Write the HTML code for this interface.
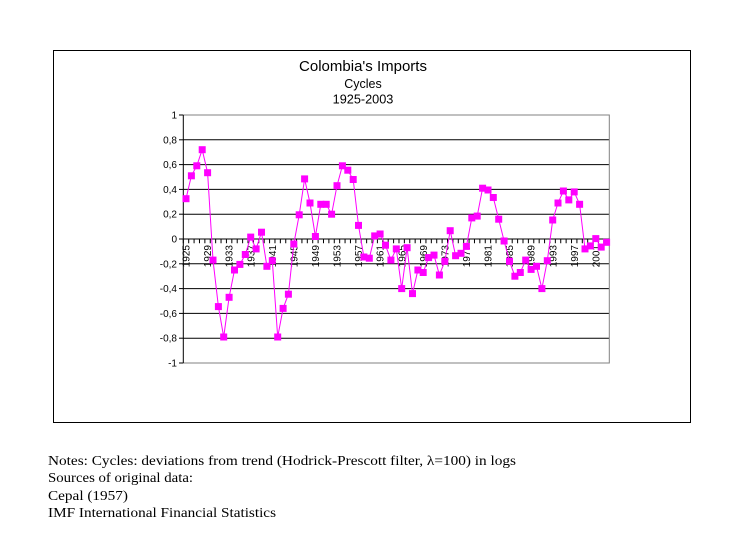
<!DOCTYPE html>
<html>
<head>
<meta charset="utf-8">
<style>
html,body{margin:0;padding:0;background:#fff;}
svg{display:block;}
</style>
</head>
<body>
<svg width="733" height="534" viewBox="0 0 733 534" xmlns="http://www.w3.org/2000/svg">
<rect x="0" y="0" width="733" height="534" fill="#fff"/>
<!-- chart box -->
<rect x="53.5" y="50.5" width="637" height="372" fill="#fff" stroke="#000" stroke-width="1"/>

<!-- titles -->
<g font-family="Liberation Sans, Arial, sans-serif" fill="#000" text-anchor="middle">
<text x="363" y="71" font-size="15">Colombia's Imports</text>
<text x="363" y="88" font-size="12.5">Cycles</text>
<text x="363" y="103.5" font-size="12.7">1925-2003</text>
</g>

<!-- gridlines -->
<g stroke="#000" stroke-width="1">
<line x1="183.3" y1="139.8" x2="609.3" y2="139.8"/>
<line x1="183.3" y1="164.6" x2="609.3" y2="164.6"/>
<line x1="183.3" y1="189.4" x2="609.3" y2="189.4"/>
<line x1="183.3" y1="214.2" x2="609.3" y2="214.2"/>
<line x1="183.3" y1="263.8" x2="609.3" y2="263.8"/>
<line x1="183.3" y1="288.6" x2="609.3" y2="288.6"/>
<line x1="183.3" y1="313.4" x2="609.3" y2="313.4"/>
<line x1="183.3" y1="338.2" x2="609.3" y2="338.2"/>
</g>
<!-- plot area border (gray) -->
<polyline points="183.3,115 609.3,115 609.3,363 183.3,363" fill="none" stroke="#808080" stroke-width="1"/>
<!-- axes -->
<line x1="183.3" y1="115" x2="183.3" y2="363" stroke="#000" stroke-width="1"/>
<line x1="183.3" y1="239" x2="609.3" y2="239" stroke="#000" stroke-width="1"/>
<!-- y ticks -->
<g stroke="#000" stroke-width="1">
<line x1="179" y1="115" x2="183.3" y2="115"/>
<line x1="179" y1="139.8" x2="183.3" y2="139.8"/>
<line x1="179" y1="164.6" x2="183.3" y2="164.6"/>
<line x1="179" y1="189.4" x2="183.3" y2="189.4"/>
<line x1="179" y1="214.2" x2="183.3" y2="214.2"/>
<line x1="179" y1="239" x2="183.3" y2="239"/>
<line x1="179" y1="263.8" x2="183.3" y2="263.8"/>
<line x1="179" y1="288.6" x2="183.3" y2="288.6"/>
<line x1="179" y1="313.4" x2="183.3" y2="313.4"/>
<line x1="179" y1="338.2" x2="183.3" y2="338.2"/>
<line x1="179" y1="363" x2="183.3" y2="363"/>
</g>
<!-- x ticks -->
<line x1="182.8" y1="241.2" x2="610" y2="241.2" stroke="#000" stroke-width="4.2" stroke-dasharray="1 4.392"/>

<!-- y labels -->
<g font-family="Liberation Sans, Arial, sans-serif" font-size="10" fill="#000" text-anchor="end">
<text x="177" y="118.5">1</text>
<text x="177" y="143.3">0,8</text>
<text x="177" y="168.1">0,6</text>
<text x="177" y="192.9">0,4</text>
<text x="177" y="217.7">0,2</text>
<text x="177" y="242.5">0</text>
<text x="177" y="267.3">-0,2</text>
<text x="177" y="292.1">-0,4</text>
<text x="177" y="316.9">-0,6</text>
<text x="177" y="341.7">-0,8</text>
<text x="177" y="366.5">-1</text>
</g>

<!-- x labels -->
<g font-family="Liberation Sans, Arial, sans-serif" font-size="10" fill="#000" text-anchor="end">
<text transform="translate(189.6,245) rotate(-90)">1925</text>
<text transform="translate(211.2,245) rotate(-90)">1929</text>
<text transform="translate(232.7,245) rotate(-90)">1933</text>
<text transform="translate(254.3,245) rotate(-90)">1937</text>
<text transform="translate(275.9,245) rotate(-90)">1941</text>
<text transform="translate(297.4,245) rotate(-90)">1945</text>
<text transform="translate(319.0,245) rotate(-90)">1949</text>
<text transform="translate(340.6,245) rotate(-90)">1953</text>
<text transform="translate(362.1,245) rotate(-90)">1957</text>
<text transform="translate(383.7,245) rotate(-90)">1961</text>
<text transform="translate(405.3,245) rotate(-90)">1965</text>
<text transform="translate(426.8,245) rotate(-90)">1969</text>
<text transform="translate(448.4,245) rotate(-90)">1973</text>
<text transform="translate(470.0,245) rotate(-90)">1977</text>
<text transform="translate(491.6,245) rotate(-90)">1981</text>
<text transform="translate(513.1,245) rotate(-90)">1985</text>
<text transform="translate(534.7,245) rotate(-90)">1989</text>
<text transform="translate(556.3,245) rotate(-90)">1993</text>
<text transform="translate(577.8,245) rotate(-90)">1997</text>
<text transform="translate(599.4,245) rotate(-90)">2001</text>
</g>

<!-- series line -->
<polyline fill="none" stroke="#FF00FF" stroke-width="1" points="186.0,198.7 191.4,175.8 196.8,165.8 202.2,149.7 207.6,172.7 213.0,260.1 218.4,306.6 223.7,337.0 229.1,297.3 234.5,270.0 239.9,264.4 245.3,254.5 250.7,237.1 256.1,248.9 261.5,232.2 266.9,266.3 272.3,260.7 277.7,337.0 283.1,308.4 288.4,294.2 293.8,244.0 299.2,214.8 304.6,178.9 310.0,203.0 315.4,236.5 320.8,204.3 326.2,204.3 331.6,214.2 337.0,185.7 342.4,165.8 347.8,170.2 353.2,179.5 358.5,225.4 363.9,257.0 369.3,258.2 374.7,235.9 380.1,234.0 385.5,245.2 390.9,260.1 396.3,248.9 401.7,288.6 407.1,247.7 412.5,293.6 417.9,270.0 423.2,272.5 428.6,257.6 434.0,255.1 439.4,275.0 444.8,261.3 450.2,230.7 455.6,255.7 461.0,253.3 466.4,246.4 471.8,217.9 477.2,216.1 482.6,188.2 488.0,190.0 493.3,197.5 498.7,219.2 504.1,241.0 509.5,261.3 514.9,276.2 520.3,272.5 525.7,260.1 531.1,269.4 536.5,266.3 541.9,288.6 547.3,260.7 552.7,220.0 558.0,203.0 563.4,191.0 568.8,199.9 574.2,191.9 579.6,204.3 585.0,248.9 590.4,245.9 595.8,238.6 601.2,247.1 606.6,242.3"/>

<!-- markers -->
<g fill="#FF00FF">
<rect x="182.5" y="195.2" width="7" height="7"/>
<rect x="187.9" y="172.3" width="7" height="7"/>
<rect x="193.3" y="162.3" width="7" height="7"/>
<rect x="198.7" y="146.2" width="7" height="7"/>
<rect x="204.1" y="169.2" width="7" height="7"/>
<rect x="209.5" y="256.6" width="7" height="7"/>
<rect x="214.9" y="303.1" width="7" height="7"/>
<rect x="220.2" y="333.5" width="7" height="7"/>
<rect x="225.6" y="293.8" width="7" height="7"/>
<rect x="231.0" y="266.5" width="7" height="7"/>
<rect x="236.4" y="260.9" width="7" height="7"/>
<rect x="241.8" y="251.0" width="7" height="7"/>
<rect x="247.2" y="233.6" width="7" height="7"/>
<rect x="252.6" y="245.4" width="7" height="7"/>
<rect x="258.0" y="228.7" width="7" height="7"/>
<rect x="263.4" y="262.8" width="7" height="7"/>
<rect x="268.8" y="257.2" width="7" height="7"/>
<rect x="274.2" y="333.5" width="7" height="7"/>
<rect x="279.6" y="304.9" width="7" height="7"/>
<rect x="284.9" y="290.7" width="7" height="7"/>
<rect x="290.3" y="240.5" width="7" height="7"/>
<rect x="295.7" y="211.3" width="7" height="7"/>
<rect x="301.1" y="175.4" width="7" height="7"/>
<rect x="306.5" y="199.5" width="7" height="7"/>
<rect x="311.9" y="233.0" width="7" height="7"/>
<rect x="317.3" y="200.8" width="7" height="7"/>
<rect x="322.7" y="200.8" width="7" height="7"/>
<rect x="328.1" y="210.7" width="7" height="7"/>
<rect x="333.5" y="182.2" width="7" height="7"/>
<rect x="338.9" y="162.3" width="7" height="7"/>
<rect x="344.3" y="166.7" width="7" height="7"/>
<rect x="349.7" y="176.0" width="7" height="7"/>
<rect x="355.0" y="221.9" width="7" height="7"/>
<rect x="360.4" y="253.5" width="7" height="7"/>
<rect x="365.8" y="254.7" width="7" height="7"/>
<rect x="371.2" y="232.4" width="7" height="7"/>
<rect x="376.6" y="230.5" width="7" height="7"/>
<rect x="382.0" y="241.7" width="7" height="7"/>
<rect x="387.4" y="256.6" width="7" height="7"/>
<rect x="392.8" y="245.4" width="7" height="7"/>
<rect x="398.2" y="285.1" width="7" height="7"/>
<rect x="403.6" y="244.2" width="7" height="7"/>
<rect x="409.0" y="290.1" width="7" height="7"/>
<rect x="414.4" y="266.5" width="7" height="7"/>
<rect x="419.7" y="269.0" width="7" height="7"/>
<rect x="425.1" y="254.1" width="7" height="7"/>
<rect x="430.5" y="251.6" width="7" height="7"/>
<rect x="435.9" y="271.5" width="7" height="7"/>
<rect x="441.3" y="257.8" width="7" height="7"/>
<rect x="446.7" y="227.2" width="7" height="7"/>
<rect x="452.1" y="252.2" width="7" height="7"/>
<rect x="457.5" y="249.8" width="7" height="7"/>
<rect x="462.9" y="242.9" width="7" height="7"/>
<rect x="468.3" y="214.4" width="7" height="7"/>
<rect x="473.7" y="212.6" width="7" height="7"/>
<rect x="479.1" y="184.7" width="7" height="7"/>
<rect x="484.5" y="186.5" width="7" height="7"/>
<rect x="489.8" y="194.0" width="7" height="7"/>
<rect x="495.2" y="215.7" width="7" height="7"/>
<rect x="500.6" y="237.5" width="7" height="7"/>
<rect x="506.0" y="257.8" width="7" height="7"/>
<rect x="511.4" y="272.7" width="7" height="7"/>
<rect x="516.8" y="269.0" width="7" height="7"/>
<rect x="522.2" y="256.6" width="7" height="7"/>
<rect x="527.6" y="265.9" width="7" height="7"/>
<rect x="533.0" y="262.8" width="7" height="7"/>
<rect x="538.4" y="285.1" width="7" height="7"/>
<rect x="543.8" y="257.2" width="7" height="7"/>
<rect x="549.2" y="216.5" width="7" height="7"/>
<rect x="554.5" y="199.5" width="7" height="7"/>
<rect x="559.9" y="187.5" width="7" height="7"/>
<rect x="565.3" y="196.4" width="7" height="7"/>
<rect x="570.7" y="188.4" width="7" height="7"/>
<rect x="576.1" y="200.8" width="7" height="7"/>
<rect x="581.5" y="245.4" width="7" height="7"/>
<rect x="586.9" y="242.4" width="7" height="7"/>
<rect x="592.3" y="235.1" width="7" height="7"/>
<rect x="597.7" y="243.6" width="7" height="7"/>
<rect x="603.1" y="238.8" width="7" height="7"/>
</g>

<!-- notes -->
<g font-family="Liberation Serif, 'Times New Roman', serif" font-size="14" fill="#000">
<text x="48" y="465" textLength="468" lengthAdjust="spacingAndGlyphs">Notes: Cycles: deviations from trend (Hodrick-Prescott filter, λ=100) in logs</text>
<text x="48" y="482" textLength="145" lengthAdjust="spacingAndGlyphs">Sources of original data:</text>
<text x="48" y="500" textLength="80" lengthAdjust="spacingAndGlyphs">Cepal (1957)</text>
<text x="48" y="517" textLength="228" lengthAdjust="spacingAndGlyphs">IMF International Financial Statistics</text>
</g>
</svg>
</body>
</html>
